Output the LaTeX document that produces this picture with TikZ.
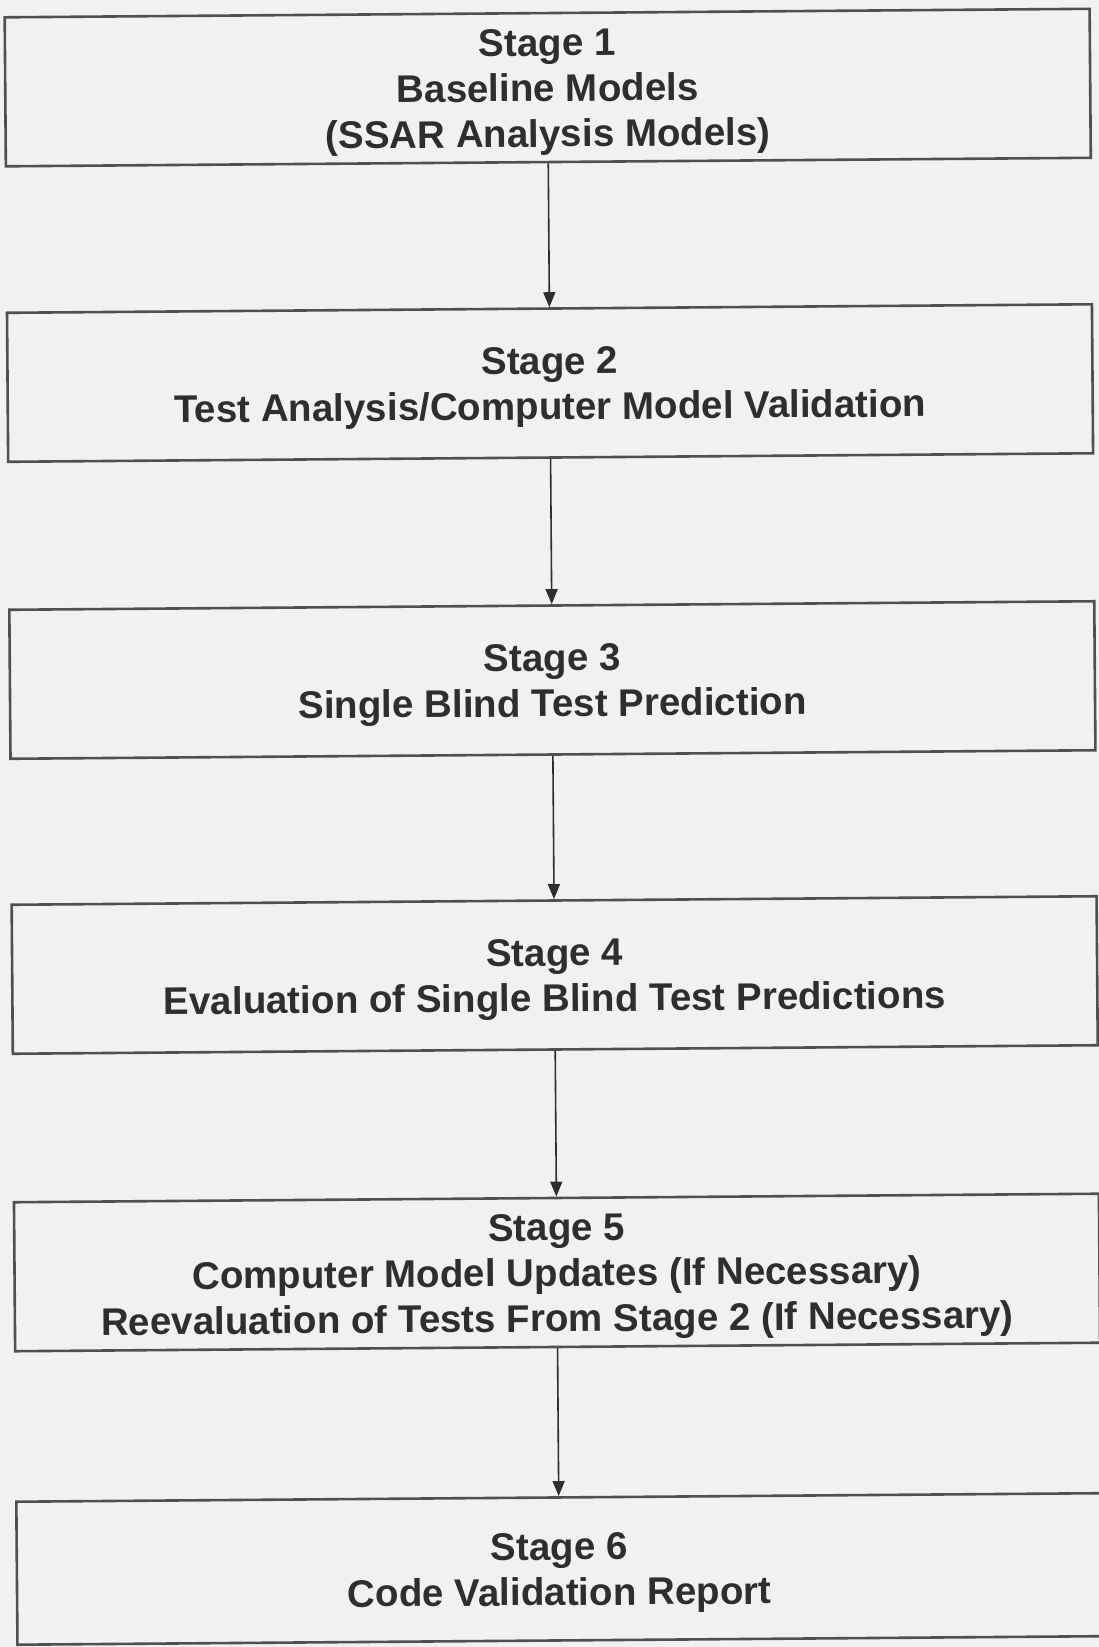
\documentclass[tikz,border=0pt]{standalone}
\usepackage{fontspec}
\setmainfont{Liberation Sans}
\usetikzlibrary{arrows.meta}
\definecolor{paper}{HTML}{F1F1EF}
\definecolor{ink}{HTML}{2E2E2E}
\definecolor{frame}{HTML}{505050}
\begin{document}
\begin{tikzpicture}[x=1pt,y=-1pt,
  stagebox/.style={draw=frame, line width=2.6pt, minimum width=1085pt,
    minimum height=149pt, inner sep=0pt, transform shape},
  stagetext/.style={inner sep=0pt, align=center, text=ink,
    font=\fontsize{38.5}{45.5}\selectfont\bfseries, transform shape},
  flow/.style={draw=ink, line width=1.6pt, -{Triangle[length=15pt,width=12pt]}}]
  % page background and fixed bounds
  \fill[paper] (0,0) rectangle (1099,1647);
  \useasboundingbox (0,0) rectangle (1099,1647);
  \begin{scope}[rotate around={0.45:(553.5,823)}]
    % the six stage frames
    \node[stagebox] (s1) at (553.5,87.5) {};
    \node[stagebox] (s2) at (553.5,383) {};
    \node[stagebox] (s3) at (553.5,680) {};
    \node[stagebox] (s4) at (553.5,975) {};
    \node[stagebox] (s5) at (553.5,1272.5) {};
    \node[stagebox, minimum height=143pt] (s6) at (553.5,1569) {};
    % their captions, set a little below the frame centres
    \node[stagetext] (t1) at ([yshift=-4.5pt]s1.center) {Stage 1\\Baseline Models\\(SSAR Analysis Models)};
    \node[stagetext] (t2) at ([yshift=-4.5pt]s2.center) {Stage 2\\Test Analysis/Computer Model Validation};
    \node[stagetext] (t3) at ([yshift=-4.5pt]s3.center) {Stage 3\\Single Blind Test Prediction};
    \node[stagetext] (t4) at ([yshift=-4.5pt]s4.center) {Stage 4\\Evaluation of Single Blind Test Predictions};
    \node[stagetext] (t5) at ([yshift=-4.5pt]s5.center) {Stage 5\\Computer Model Updates (If Necessary)\\Reevaluation of Tests From Stage 2 (If Necessary)};
    \node[stagetext] (t6) at ([yshift=-4.5pt]s6.center) {Stage 6\\Code Validation Report};
    % flow from one stage to the next
    \draw[flow] (s1) -- (s2);
    \draw[flow] (s2) -- (s3);
    \draw[flow] (s3) -- (s4);
    \draw[flow] (s4) -- (s5);
    \draw[flow] (s5) -- (s6);
  \end{scope}
\end{tikzpicture}
\end{document}
